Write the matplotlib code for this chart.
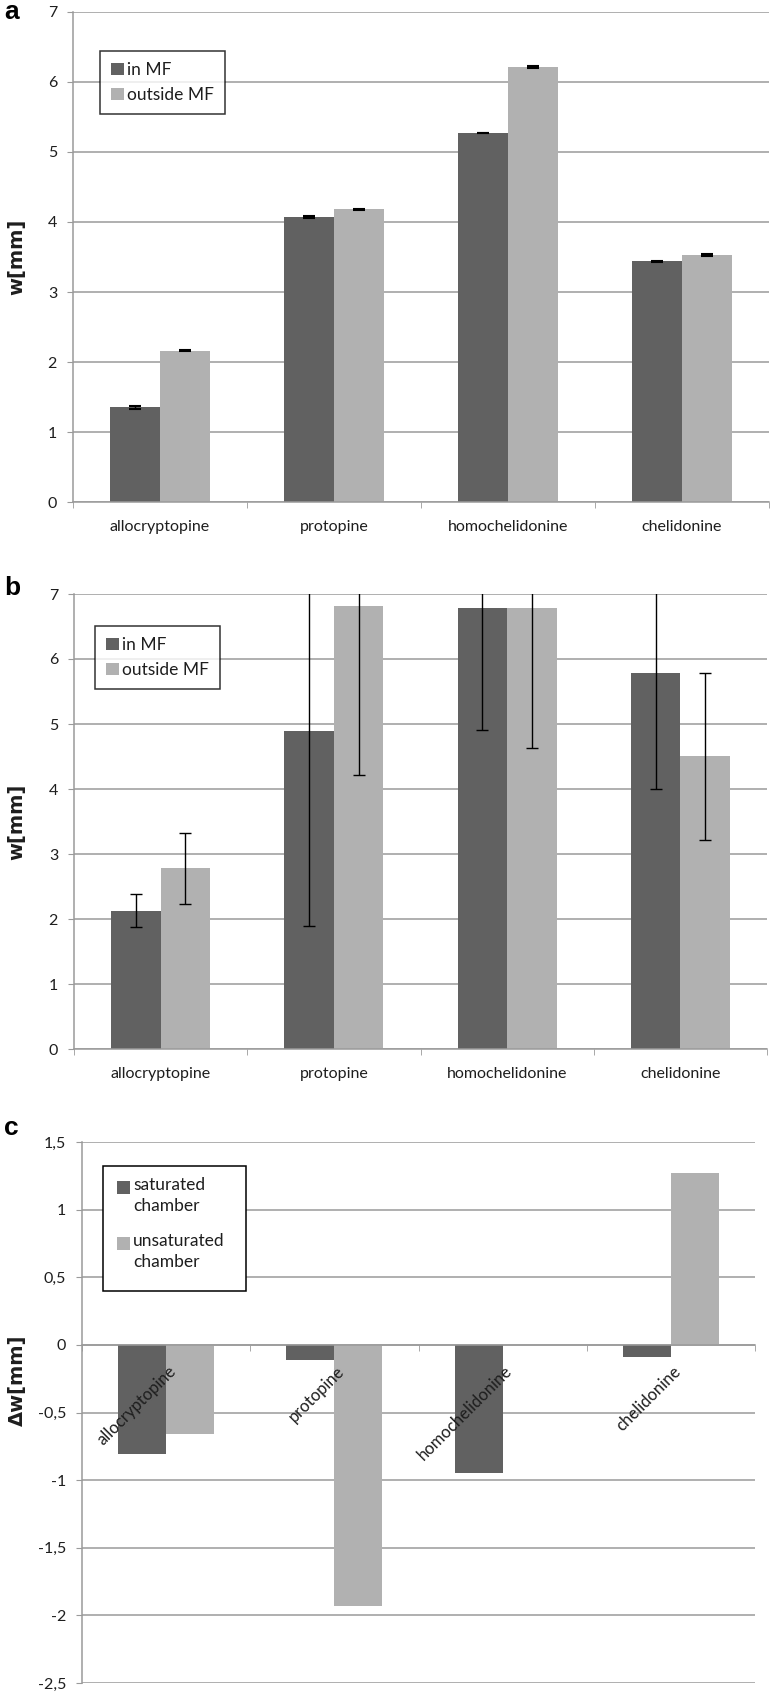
import numpy as np
import matplotlib
matplotlib.use('Agg')
import matplotlib.pyplot as plt
from matplotlib.ticker import FuncFormatter
from matplotlib.patches import Rectangle

plt.rcParams['font.family'] = ['Lato', 'DejaVu Sans']

compounds = ['allocryptopine', 'protopine', 'homochelidonine', 'chelidonine']

# panel a - w[mm]
a_in_mf = [1.35, 4.07, 5.27, 3.44]
a_out_mf = [2.16, 4.18, 6.21, 3.53]
a_in_err = [0.015, 0.02, 0.005, 0.005]
a_out_err = [0.006, 0.006, 0.012, 0.015]

# panel b - w[mm]
b_in_mf = [2.13, 4.89, 6.78, 5.78]
b_out_mf = [2.78, 6.82, 6.78, 4.50]
b_in_err = [0.25, 3.0, 1.87, 1.78]
b_out_err = [0.55, 2.61, 2.15, 1.29]

# panel c - delta w[mm]
c_saturated = [-0.81, -0.11, -0.95, -0.09]
c_unsaturated = [-0.66, -1.93, 0.0, 1.27]

DARK = '#616161'
LIGHT = '#b1b1b1'
GRID = '#9a9a9a'
TXT = '#1e1e1e'
W = 0.285

W_PX, H_PX = 774, 1692


def px_axes(fig, left, top, right, bottom):
    return fig.add_axes([left / W_PX, 1 - bottom / H_PX,
                         (right - left) / W_PX, (bottom - top) / H_PX])


def fx(px):
    return px / W_PX


def fy(px):
    return 1 - px / H_PX


def style(ax, ymin, ymax, step):
    ax.set_xlim(-0.5, 3.5)
    ax.set_ylim(ymin, ymax)
    ax.set_yticks(np.arange(ymin, ymax + step / 2, step))
    ax.yaxis.grid(True, color=GRID, lw=1.1)
    ax.set_axisbelow(True)
    for s in ['top', 'right']:
        ax.spines[s].set_visible(False)
    for s in ['left', 'bottom']:
        ax.spines[s].set_color(GRID)
        ax.spines[s].set_linewidth(1.1)
    ax.tick_params(axis='y', length=4.5, color=GRID, pad=7, labelsize=11.5, labelcolor=TXT)
    ax.set_xticks(range(len(compounds)))
    ax.set_xticks(np.arange(-0.5, 4, 1), minor=True)
    ax.tick_params(axis='x', which='minor', length=4.5, color=GRID)
    ax.tick_params(axis='x', which='major', length=0, labelsize=11.5, labelcolor=TXT)


def legend(ax, labels, loc):
    leg = ax.legend(labels, loc='upper left', bbox_to_anchor=loc, frameon=True,
                    fancybox=False, edgecolor='black', fontsize=12.5,
                    handlelength=0.72, handleheight=0.72, handletextpad=0.2,
                    borderpad=0.65, labelspacing=0.5, borderaxespad=0)
    leg.get_frame().set_linewidth(1.1)
    for t in leg.get_texts():
        t.set_color(TXT)


fig = plt.figure(figsize=(W_PX / 100, H_PX / 100), dpi=100)
x = np.arange(len(compounds))

# ---- a
ax = px_axes(fig, 73, 12, 769, 502)
ax.bar(x - W / 2, a_in_mf, W, color=DARK, label='in MF')
ax.bar(x + W / 2, a_out_mf, W, color=LIGHT, label='outside MF')
ax.errorbar(x - W / 2, a_in_mf, yerr=a_in_err, fmt='none', ecolor='black', elinewidth=1, capsize=4, capthick=1.5)
ax.errorbar(x + W / 2, a_out_mf, yerr=a_out_err, fmt='none', ecolor='black', elinewidth=1, capsize=4, capthick=1.5)
style(ax, 0, 7, 1)
ax.set_xticklabels(compounds)
ax.tick_params(axis='x', which='major', pad=13)
legend(ax, ['in MF', 'outside MF'], ((100 - 73) / 696, 1 - (51 - 12) / 490))

# ---- b
ax = px_axes(fig, 74, 594, 767, 1049)
ax.bar(x - W / 2, b_in_mf, W, color=DARK)
ax.bar(x + W / 2, b_out_mf, W, color=LIGHT)
ax.errorbar(x - W / 2, b_in_mf, yerr=b_in_err, fmt='none', ecolor='black', elinewidth=1, capsize=4, capthick=1)
ax.errorbar(x + W / 2, b_out_mf, yerr=b_out_err, fmt='none', ecolor='black', elinewidth=1, capsize=4, capthick=1)
style(ax, 0, 7, 1)
ax.set_xticklabels(compounds)
ax.tick_params(axis='x', which='major', pad=13)
legend(ax, ['in MF', 'outside MF'], ((95 - 74) / 693, 1 - (626 - 594) / 455))

# ---- c
ax = px_axes(fig, 82, 1142, 755, 1683)
ax.bar(x - W / 2, c_saturated, W, color=DARK)
ax.bar(x + W / 2, c_unsaturated, W, color=LIGHT)
style(ax, -2.5, 1.5, 0.5)
ax.spines['bottom'].set_position(('data', 0))
ax.yaxis.set_major_formatter(FuncFormatter(lambda v, p: ('%g' % v).replace('.', ',')))
ax.set_xticklabels([])
# category names drawn over the bars, as in the original
for i, name in enumerate(compounds):
    ax.annotate(name, xy=(i, 0), xytext=(1, -13), textcoords='offset points',
                rotation=45, ha='right', va='top', rotation_mode='anchor',
                fontsize=12, color=TXT, zorder=10, annotation_clip=False)

# legend with two-line labels, handle aligned to the first line
fig.patches.append(Rectangle((fx(103), fy(1291)), fx(246) - fx(103), fy(1166) - fy(1291),
                             transform=fig.transFigure, fill=True, facecolor='white',
                             edgecolor='black', lw=1.1, zorder=20))
for lab, col, ytop in [('saturated\nchamber', DARK, 1180), ('unsaturated\nchamber', LIGHT, 1236)]:
    fig.patches.append(Rectangle((fx(117), fy(ytop + 14)), fx(13), 13 / H_PX,
                                 transform=fig.transFigure, facecolor=col,
                                 edgecolor='none', zorder=21))
    fig.text(fx(133), fy(ytop - 3), lab, ha='left', va='top', fontsize=12.5,
             color=TXT, linespacing=1.35, zorder=22)

# axis titles and panel letters
fig.text(17 / W_PX, 1 - 257 / H_PX, 'w[mm]', rotation=90, ha='center', va='center',
         family='DejaVu Sans', weight='bold', fontsize=14, color=TXT)
fig.text(17 / W_PX, 1 - 822 / H_PX, 'w[mm]', rotation=90, ha='center', va='center',
         family='DejaVu Sans', weight='bold', fontsize=14, color=TXT)
fig.text(17 / W_PX, 1 - 1380 / H_PX, 'Δw[mm]', rotation=90, ha='center', va='center',
         family='DejaVu Sans', weight='bold', fontsize=14, color=TXT)

for letter, ypx in [('a', 12), ('b', 588), ('c', 1128)]:
    fig.text(4 / W_PX, 1 - ypx / H_PX, letter, ha='left', va='center',
             family='Liberation Sans', weight='bold', fontsize=19, color='black')

fig.savefig('out.png', dpi=100)
